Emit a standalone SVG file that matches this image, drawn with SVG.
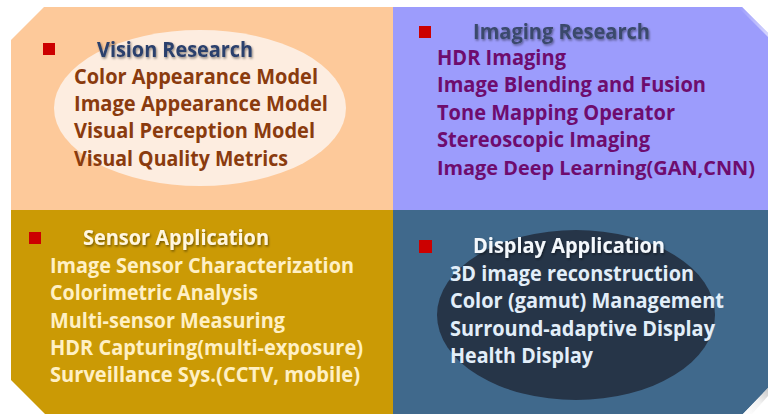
<svg xmlns="http://www.w3.org/2000/svg" width="768" height="414" viewBox="0 0 768 414">
  <defs>
    <filter id="shadow" x="-5%" y="-20%" width="110%" height="150%">
      <feDropShadow dx="1" dy="1.5" stdDeviation="0.8" flood-color="#000" flood-opacity="0.45"/>
    </filter>
    <linearGradient id="curl" x1="0" y1="1" x2="1" y2="0">
      <stop offset="0" stop-color="#ffffff"/>
      <stop offset="0.55" stop-color="#f2f2f2"/>
      <stop offset="1" stop-color="#c8c8c8"/>
    </linearGradient>
    <linearGradient id="curlTop" x1="0" y1="0" x2="1" y2="1">
      <stop offset="0" stop-color="#9c9cfc"/>
      <stop offset="1" stop-color="#ffffff"/>
    </linearGradient>
  </defs>
  <style>
    text { font-family: "Open Sans", "Noto Sans", "Liberation Sans", sans-serif; font-weight: 700; font-size: 21px; }
    .title { font-size: 21.5px; filter: url(#shadow); }
    .long { font-size: 19.5px; }
    .bullet { fill: #cc0000; }
    .vr { fill: #8a3b0e; }
    .ir { fill: #6e0c6e; }
    .sa { fill: #fff0c4; }
    .da { fill: #e2eef9; }
  </style>

  <rect width="768" height="414" fill="#ffffff"/>

  <!-- Vision Research -->
  <g id="vision-research">
    <path d="M11,40 L44,7 L393,7 L393,210 L11,210 Z" fill="#fdc99a"/>
    <ellipse cx="200" cy="108" rx="146" ry="78" fill="#fdede0"/>
    <rect class="bullet" x="43" y="43" width="12" height="12"/>
    <text class="title" x="97" y="57" fill="#2c3f6c" textLength="156" lengthAdjust="spacingAndGlyphs">Vision Research</text>
    <text class="vr" x="74" y="84" textLength="244" lengthAdjust="spacingAndGlyphs">Color Appearance Model</text>
    <text class="vr" x="74" y="111" textLength="254" lengthAdjust="spacingAndGlyphs">Image Appearance Model</text>
    <text class="vr" x="74" y="138" textLength="241" lengthAdjust="spacingAndGlyphs">Visual Perception Model</text>
    <text class="vr" x="74" y="166" textLength="214" lengthAdjust="spacingAndGlyphs">Visual Quality Metrics</text>
  </g>

  <!-- Imaging Research -->
  <g id="imaging-research">
    <path d="M393,7 L742,7 L768,33 L768,210 L393,210 Z" fill="#9c9cfc"/>
    <path d="M738,7 L742,7 L768,33 L768,37 Z" fill="url(#curlTop)" opacity="0.6"/>
    <rect class="bullet" x="419" y="26" width="12" height="12"/>
    <text class="title" x="473" y="39" fill="#3a4a6c" textLength="177" lengthAdjust="spacingAndGlyphs">Imaging Research</text>
    <text class="ir" x="437" y="65" textLength="129" lengthAdjust="spacingAndGlyphs">HDR Imaging</text>
    <text class="ir" x="437" y="92" textLength="269" lengthAdjust="spacingAndGlyphs">Image Blending and Fusion</text>
    <text class="ir" x="437" y="120" textLength="238" lengthAdjust="spacingAndGlyphs">Tone Mapping Operator</text>
    <text class="ir" x="437" y="147" textLength="213" lengthAdjust="spacingAndGlyphs">Stereoscopic Imaging</text>
    <text class="ir long" x="437" y="175" textLength="318" lengthAdjust="spacingAndGlyphs">Image Deep Learning(GAN,CNN)</text>
  </g>

  <!-- Sensor Application -->
  <g id="sensor-application">
    <path d="M11,210 L393,210 L393,414 L45,414 L11,380 Z" fill="#cb9a05"/>
    <rect class="bullet" x="29" y="232" width="12" height="12"/>
    <text class="title" x="83" y="245" fill="#fff6e0" textLength="186" lengthAdjust="spacingAndGlyphs">Sensor Application</text>
    <text class="sa" x="50" y="273" textLength="304" lengthAdjust="spacingAndGlyphs">Image Sensor Characterization</text>
    <text class="sa" x="50" y="300" textLength="208" lengthAdjust="spacingAndGlyphs">Colorimetric Analysis</text>
    <text class="sa" x="50" y="328" textLength="235" lengthAdjust="spacingAndGlyphs">Multi-sensor Measuring</text>
    <text class="sa" x="50" y="355" textLength="313" lengthAdjust="spacingAndGlyphs">HDR Capturing(multi-exposure)</text>
    <text class="sa" x="50" y="382" textLength="310" lengthAdjust="spacingAndGlyphs">Surveillance Sys.(CCTV, mobile)</text>
  </g>

  <!-- Display Application -->
  <g id="display-application">
    <path d="M393,210 L768,210 L768,388 L743,414 L393,414 Z" fill="#40698c"/>
    <path d="M743,414 L768,388 L768,396 L752,414 Z" fill="url(#curl)"/>
    <ellipse cx="576" cy="315" rx="139" ry="85" fill="#263548"/>
    <rect class="bullet" x="419" y="240" width="13" height="13"/>
    <text class="title" x="473" y="253" fill="#f4f8fc" textLength="192" lengthAdjust="spacingAndGlyphs">Display Application</text>
    <text class="da" x="450" y="281" textLength="244" lengthAdjust="spacingAndGlyphs">3D image reconstruction</text>
    <text class="da" x="450" y="308" textLength="274" lengthAdjust="spacingAndGlyphs">Color (gamut) Management</text>
    <text class="da" x="450" y="336" textLength="265" lengthAdjust="spacingAndGlyphs">Surround-adaptive Display</text>
    <text class="da" x="450" y="363" textLength="143" lengthAdjust="spacingAndGlyphs">Health Display</text>
  </g>
</svg>
